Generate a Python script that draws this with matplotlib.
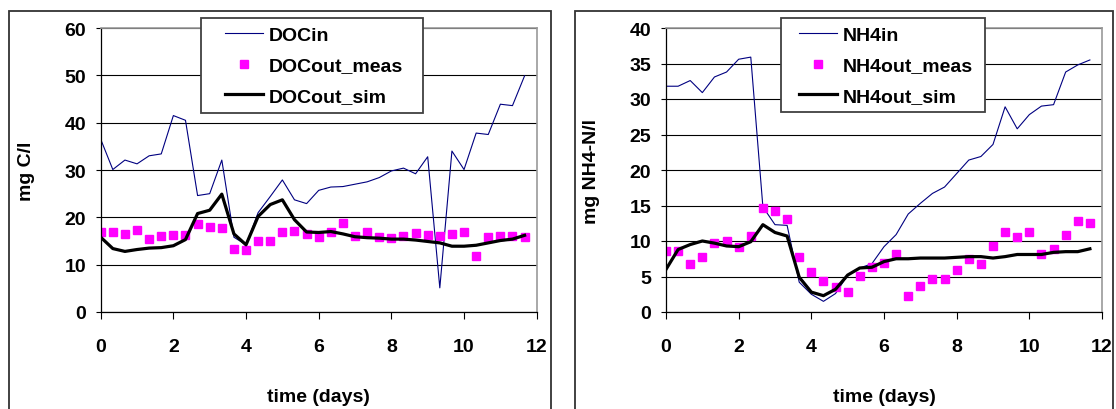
import numpy as np
import matplotlib
matplotlib.use("Agg")
import matplotlib.pyplot as plt
from matplotlib.patches import Rectangle

plt.rcParams['font.family'] = ['Liberation Sans', 'DejaVu Sans']
plt.rcParams['font.weight'] = 'bold'

# time axis: every 1/3 day
days = np.arange(36) / 3.0

doc_in = [36.5, 30.1, 32.1, 31.3, 33.0, 33.4, 41.5, 40.5, 24.6, 25.0, 32.1, 15.8,
          14.2, 21.0, 24.4, 27.9, 23.7, 22.9, 25.7, 26.4, 26.5, 27.0, 27.5, 28.4,
          29.8, 30.4, 29.2, 32.8, 5.1, 34.0, 30.1, 37.8, 37.5, 43.9, 43.6, 49.9]
doc_meas = [16.9, 16.9, 16.4, 17.3, 15.4, 16.1, 16.2, 16.2, 18.5, 17.9, 17.7, 13.3,
            13.2, 14.9, 14.9, 16.9, 17.1, 16.5, 15.8, 17.0, 18.9, 16.0, 17.0, 15.8,
            15.6, 16.1, 16.7, 16.3, 16.1, 16.5, 16.8, 11.9, 15.9, 16.1, 16.1, 15.9]
doc_sim = [15.8, 13.4, 12.8, 13.2, 13.5, 13.6, 14.0, 15.3, 20.8, 21.5, 24.9, 16.5,
           14.2, 20.2, 22.7, 23.7, 19.5, 16.9, 16.8, 17.0, 16.5, 15.9, 15.7, 15.6,
           15.4, 15.4, 15.2, 14.9, 14.6, 13.9, 13.9, 14.1, 14.6, 15.1, 15.4, 16.2]

nh4_in = [31.8, 31.8, 32.6, 30.9, 33.1, 33.8, 35.6, 35.9, 14.8, 12.3, 12.2, 4.2,
          2.5, 1.5, 2.6, 5.2, 6.2, 6.8, 9.2, 10.9, 13.8, 15.3, 16.7, 17.6,
          19.5, 21.4, 21.9, 23.6, 28.9, 25.8, 27.8, 29.0, 29.2, 33.8, 34.8, 35.5]
nh4_meas = [8.6, 8.6, 6.8, 7.7, 9.7, 10.0, 9.2, 10.7, 14.7, 14.2, 13.1, 7.8,
            5.7, 4.4, 3.5, 2.8, 5.1, 6.4, 6.9, 8.2, 2.3, 3.6, 4.6, 4.6,
            5.9, 7.4, 6.7, 9.3, 11.3, 10.6, 11.2, 8.2, 8.9, 10.8, 12.8, 12.6]
nh4_sim = [6.0, 8.8, 9.5, 10.0, 9.7, 9.3, 9.2, 9.9, 12.3, 11.2, 10.7, 4.9,
           2.8, 2.3, 3.2, 5.2, 6.2, 6.3, 7.1, 7.5, 7.5, 7.6, 7.6, 7.6,
           7.7, 7.8, 7.8, 7.6, 7.8, 8.1, 8.1, 8.1, 8.4, 8.5, 8.5, 8.9]

x_ticks = [0, 2, 4, 6, 8, 10, 12]

panels = [
    dict(left=100.7, inp=doc_in, meas=doc_meas, sim=doc_sim, ymax=60, ystep=10,
         ylabel='mg C/l', labels=['DOCin', 'DOCout_meas', 'DOCout_sim'],
         box=(201, 19, 423, 114), handle_x=225, ylab_x=-0.151),
    dict(left=666.0, inp=nh4_in, meas=nh4_meas, sim=nh4_sim, ymax=40, ystep=5,
         ylabel='mg NH4-N/l', labels=['NH4in', 'NH4out_meas', 'NH4out_sim'],
         box=(781, 19, 985, 113), handle_x=799, ylab_x=-0.151),
]

W, H = 1116, 410
fig = plt.figure(figsize=(W / 100, H / 100), dpi=100)
fs = 14

# outer chart frames
for (x0, x1) in [(9, 551), (575, 1113)]:
    fig.patches.append(Rectangle((x0 / W, -0.05), (x1 - x0) / W, 1.05 - 12 / H,
                                 transform=fig.transFigure, fill=False,
                                 edgecolor='#333333', linewidth=1.3, zorder=0))

for p in panels:
    ax = fig.add_axes([p['left'] / W, 97 / H, 436 / W, 284 / H])
    l1, = ax.plot(days, p['inp'], color='#000080', lw=0.8)
    l2, = ax.plot(days, p['meas'], ls='none', marker='s', ms=5.5,
                  color='#FF00FF', mec='#FF00FF')
    l3, = ax.plot(days, p['sim'], color='black', lw=2.3)
    ax.set_xlim(0, 12)
    ax.set_ylim(0, p['ymax'])
    ax.set_xticks(x_ticks)
    ax.set_yticks(np.arange(0, p['ymax'] + 0.1, p['ystep']))
    ax.set_axisbelow(True)
    ax.yaxis.grid(True, color='black', lw=0.8)
    for s in ['top', 'right']:
        ax.spines[s].set_color('#999999')
        ax.spines[s].set_linewidth(1.2)
    for s in ['left', 'bottom']:
        ax.spines[s].set_color('black')
        ax.spines[s].set_linewidth(0.9)
    ax.tick_params(axis='y', direction='out', length=3.6, width=0.8,
                   pad=7, labelsize=fs)
    ax.tick_params(axis='x', direction='out', length=4.8, width=0.8,
                   pad=14, labelsize=fs)
    for lab in ax.get_xticklabels() + ax.get_yticklabels():
        lab.set_fontweight('bold')
    ax.set_xlabel('time (days)', fontsize=fs, fontweight='bold', labelpad=24)
    ax.set_ylabel(p['ylabel'], fontsize=fs, fontweight='bold')
    ax.yaxis.set_label_coords(p['ylab_x'], 0.5)

    bx0, by0, bx1, by1 = p['box']
    fig.patches.append(Rectangle((bx0 / W, 1 - by1 / H), (bx1 - bx0) / W,
                                 (by1 - by0) / H, transform=fig.transFigure,
                                 facecolor='white', edgecolor='#404040',
                                 linewidth=1.3, zorder=3))
    leg = fig.legend([l1, l2, l3], p['labels'], loc='upper left',
                     bbox_to_anchor=(p['handle_x'] / W, 1 - 27 / H),
                     frameon=False, borderpad=0, borderaxespad=0,
                     handlelength=1.95, handletextpad=0.28, labelspacing=0.68,
                     prop=dict(size=fs, weight='bold'))
    leg.set_zorder(5)

fig.savefig('out.png', dpi=100)
